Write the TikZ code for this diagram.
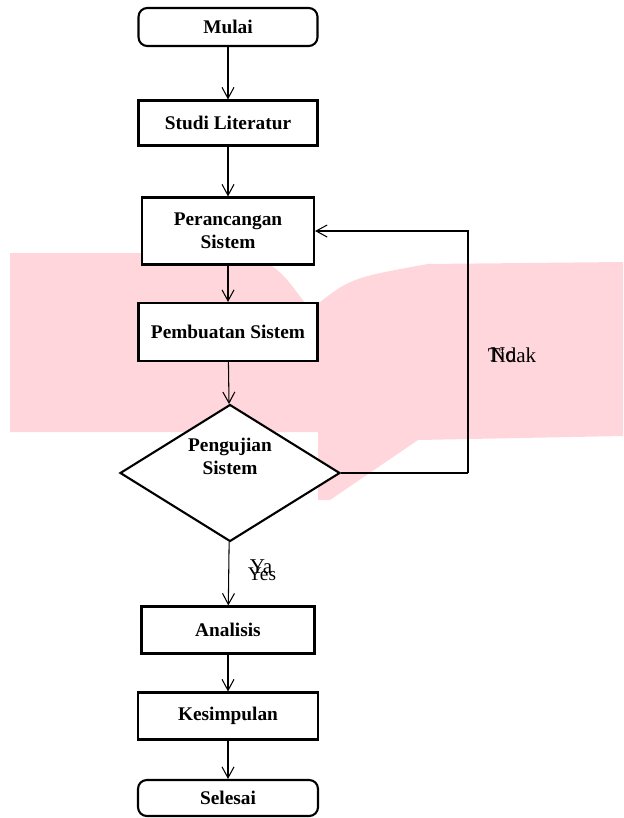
\documentclass[tikz,border=0pt]{standalone}
\usepackage{fontspec}
\setmainfont{Liberation Serif}
\usetikzlibrary{shapes.geometric,arrows.meta}

\definecolor{merahmuda}{RGB}{255,214,219}

\tikzset{
	proses/.style={draw, very thick, fill=white, align=center,
		minimum width=3.5cm, minimum height=0.9cm, inner sep=2pt,
		font=\bfseries\fontsize{11}{13}\selectfont},
	terminal/.style={proses, rounded corners=5pt},
	keputusan/.style={draw, very thick, fill=white, diamond,
		minimum width=4.4cm, minimum height=2.74cm, inner sep=0pt},
	panah/.style={line width=0.6pt, -{Straight Barb[length=2.2mm, width=2.4mm]}},
	garis/.style={line width=0.6pt},
	keterangan/.style={font=\fontsize{12}{14}\selectfont, anchor=base}
}

\begin{document}
\begin{tikzpicture}[x=0.02cm, y=-0.02cm]

		\useasboundingbox (0,0) rectangle (623,818);

		% watermark

		\fill[merahmuda] (10,253) -- (225,253) .. controls (275,262) .. (310,310)
			.. controls (350,278) .. (428,264) -- (623,262) -- (623,436)
			-- (418,440) -- (330,500) -- (318,500) -- (318,432) -- (10,432) -- cycle;

		% define node

		\node[terminal, minimum width=3.58cm, minimum height=0.76cm] (mulai) at (228,27) {Mulai};

		\node[proses, minimum width=3.58cm] (studi) at (228,123) {Studi Literatur};

		\node[proses, minimum width=3.44cm, minimum height=1.34cm] (perancangan) at (228,231) {Perancangan\\Sistem};

		\node[proses, minimum width=3.58cm, minimum height=1.16cm] (pembuatan) at (228,332) {Pembuatan Sistem};

		\node[keputusan] (pengujian) at (230,473) {};

		\node[font=\bfseries\fontsize{11}{13}\selectfont, align=center] (pengujianteks) at (230,456) {Pengujian\\Sistem};

		\node[proses, minimum width=3.46cm, minimum height=0.94cm] (analisis) at (228,630) {Analisis};

		\node[proses, minimum width=3.6cm, minimum height=0.94cm] (kesimpulan) at (228,716) {Kesimpulan};

		\node[terminal, minimum width=3.6cm, minimum height=0.72cm] (selesai) at (228,798) {Selesai};

		\coordinate (belok) at (468,473);

		% arrows

		\draw[panah] (mulai) -- (studi);

		\draw[panah] (studi) -- (perancangan);

		\draw[panah] (perancangan) -- (pembuatan);

		\draw[panah] (pembuatan) -- (pengujian);

		\draw[panah] (pengujian) -- (analisis);

		\draw[panah] (analisis) -- (kesimpulan);

		\draw[panah] (kesimpulan) -- (selesai);

		\draw[garis] (pengujian.east) -- (belok);

		\draw[panah] (belok) |- (perancangan.east);

		% labels

		\node[keterangan] (tidak) at (512,362) {Tidak};

		\node[keterangan] (no) at (503,361) {No};

		\node[keterangan] (ya) at (261,573) {Ya};

		\node[keterangan, font=\fontsize{11}{13}\selectfont] (yes) at (262,580) {Yes};

	\end{tikzpicture}
\end{document}
